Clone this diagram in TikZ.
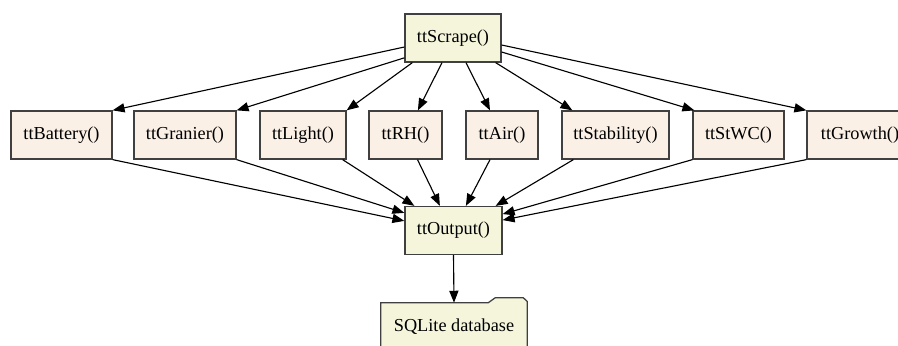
\documentclass[tikz,border=0pt]{standalone}
\usepackage{fontspec}
\setmainfont{Liberation Serif}
\usetikzlibrary{arrows.meta,backgrounds}

\begin{document}
\begin{tikzpicture}[
  font=\fontsize{13}{15}\selectfont,
  >={Triangle[length=8.5pt,width=6.5pt]},
  fn/.style={draw=black!75, line width=0.9pt, inner sep=0pt, minimum height=1.2cm},
  topfn/.style={fn, fill=cTop},
  subfn/.style={fn, fill=cSub},
  call/.style={->, line width=0.8pt}
]

\definecolor{cTop}{RGB}{245,245,220}
\definecolor{cSub}{RGB}{250,240,230}

%% Geometry: 1 px of the layout -> 0.025 cm; the call row sits at y=5.25.
\def\yrow{5.25}

\useasboundingbox (0,0) rectangle (22.45,8.625);

%% ---------- entry point ----------
\node[topfn, minimum width=2.4cm] (scrape) at (11.325,7.675) {ttScrape()};

%% ---------- the eight scrapers ----------
\node[subfn, minimum width=2.525cm] (battery)   at (1.5375,\yrow)  {ttBattery()};
\node[subfn, minimum width=2.55cm]  (granier)   at (4.625,\yrow)   {ttGranier()};
\node[subfn, minimum width=2.15cm]  (light)     at (7.575,\yrow)   {ttLight()};
\node[subfn, minimum width=1.825cm] (rh)        at (10.1375,\yrow) {ttRH()};
\node[subfn, minimum width=1.8cm]   (air)       at (12.55,\yrow)   {ttAir()};
\node[subfn, minimum width=2.675cm] (stability) at (15.3875,\yrow) {ttStability()};
\node[subfn, minimum width=2.275cm] (stwc)      at (18.4625,\yrow) {ttStWC()};
\node[subfn, minimum width=2.65cm]  (growth)    at (21.5,\yrow)    {ttGrowth()};

%% ---------- collector and store ----------
\node[topfn, minimum width=2.425cm] (out) at (11.3375,2.8625) {ttOutput()};
\node[inner sep=0pt, minimum width=3.65cm, minimum height=1.2cm] (db) at (11.35,0.45) {SQLite database};

\begin{scope}[on background layer]
  \filldraw[fill=cTop, draw=black!75, line width=0.9pt]
    (db.south west) -- (db.north west) -- ([xshift=-0.975cm]db.north east)
    -- ([xshift=-0.8cm,yshift=0.125cm]db.north east)
    -- ([xshift=-0.1cm,yshift=0.125cm]db.north east)
    -- ([yshift=0.03cm]db.north east) -- (db.south east) -- cycle;
\end{scope}

%% ---------- fan out ----------
\draw[call] ([yshift=-0.225cm]scrape.west)      -- (battery.north east);
\draw[call] ([yshift=0.12cm]scrape.south west)  -- (granier.north east);
\draw[call] ([xshift=0.2cm]scrape.south west)   -- (light.north east);
\draw[call] ([xshift=-0.275cm]scrape.south)     -- ([xshift=0.31cm]rh.north);
\draw[call] ([xshift=0.325cm]scrape.south)      -- ([xshift=-0.3cm]air.north);
\draw[call] ([xshift=-0.15cm]scrape.south east) -- ([xshift=0.275cm]stability.north west);
\draw[call] ([yshift=-0.35cm]scrape.east)       -- ([xshift=0.05cm]stwc.north west);
\draw[call] ([yshift=-0.175cm]scrape.east)      -- (growth.north west);

%% ---------- fan in ----------
\draw[call] (battery.south east)                  -- ([yshift=0.24cm]out.west);
\draw[call] (granier.south east)                  -- ([yshift=0.44cm]out.west);
\draw[call] ([xshift=-0.1cm]light.south east)     -- ([xshift=0.25cm]out.north west);
\draw[call] ([xshift=0.3cm]rh.south)              -- ([xshift=-0.34cm]out.north);
\draw[call] ([xshift=-0.3cm]air.south)            -- ([xshift=0.31cm]out.north);
\draw[call] ([xshift=0.3cm]stability.south west)  -- ([xshift=-0.175cm]out.north east);
\draw[call] (stwc.south west)                     -- ([yshift=0.41cm]out.east);
\draw[call] (growth.south west)                   -- ([yshift=0.26cm]out.east);

%% ---------- store ----------
\draw[call] (out.south) -- (db.north);

\end{tikzpicture}
\end{document}
